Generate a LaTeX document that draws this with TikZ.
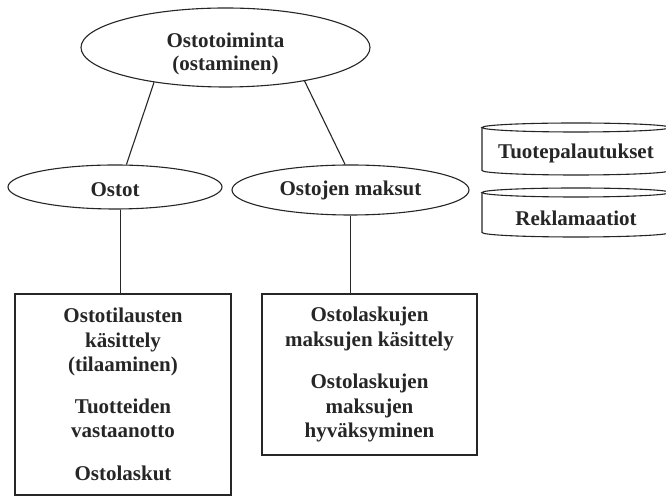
\documentclass[tikz,border=0pt]{standalone}
\usepackage{fontspec}
\setmainfont{Liberation Serif}
\usetikzlibrary{shapes.geometric}
\definecolor{ink}{HTML}{262626}
\tikzset{
  lbl/.style={font=\fontsize{21}{24.5}\selectfont\bfseries, text=ink, align=center, inner sep=0pt},
  oval/.style={draw=ink, line width=1.1pt, ellipse, inner sep=0pt},
  panel/.style={draw=ink, line width=1.1pt, rectangle, inner sep=0pt, lbl},
  link/.style={draw=ink, line width=1.1pt},
  drum/.style={draw=ink, line width=1.1pt}
}
\begin{document}
\begin{tikzpicture}[x=1pt, y=1pt]
\useasboundingbox (0,0) rectangle (666,497);
\fill[white] (0,0) rectangle (666,497);

% ellipses
\node[oval, minimum width=289pt, minimum height=79pt,
      label={[lbl, yshift=-6pt, font=\fontsize{21}{23}\selectfont\bfseries]center:Ostotoiminta\\(ostaminen)}]
      (top) at (225.5,449.5) {};
\node[oval, minimum width=214pt, minimum height=44pt,
      label={[lbl, yshift=-3pt]center:Ostot}] (ostot) at (115,310) {};
\node[oval, minimum width=237pt, minimum height=50pt,
      label={[lbl]center:Ostojen maksut}] (maksut) at (350.5,307) {};

% boxes
\node[panel, minimum width=216pt, minimum height=201pt] (leftbox) at (123,102.5)
  {Ostotilausten\\käsittely\\(tilaaminen)\\[17pt]Tuotteiden\\vastaanotto\\[18pt]Ostolaskut};
\node[panel, minimum width=215pt, minimum height=161pt] (rightbox) at (369.5,122.5)
  {Ostolaskujen\\maksujen käsittely\\[18pt]Ostolaskujen\\maksujen\\hyväksyminen};

% connectors
\coordinate (leftdrop) at ([xshift=-2.5pt]leftbox.north);
\draw[link] (leftdrop |- ostot.south) -- (leftdrop);
\draw[link] (top.206) -- (ostot.63);
\draw[link] (top.337) -- (maksut.102);
\draw[link] (maksut.south) -- (maksut.south |- rightbox.north);

% cylinders
\draw[drum] (482,369.5) -- (482,326.5) arc[start angle=180, end angle=360, x radius=94, y radius=4.5] -- (670,369.5);
\draw[drum] (576,369.5) ellipse[x radius=94, y radius=4.5];
\node[lbl] (palautukset) at (576,344) {Tuotepalautukset};

\draw[drum] (482,304.5) -- (482,264.5) arc[start angle=180, end angle=360, x radius=94, y radius=4.5] -- (670,304.5);
\draw[drum] (576,304.5) ellipse[x radius=94, y radius=4.5];
\node[lbl] (reklamaatiot) at (576,279) {Reklamaatiot};
\end{tikzpicture}
\end{document}
